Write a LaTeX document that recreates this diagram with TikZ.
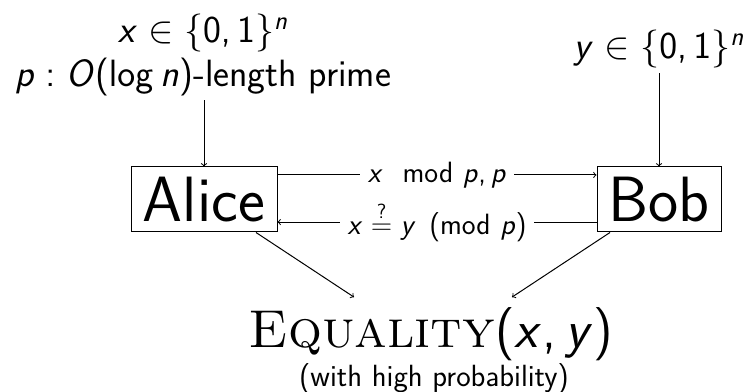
\RequirePackage{fix-cm}
\documentclass[tikz,border=0pt]{standalone}
\usepackage{amsmath}
\renewcommand{\familydefault}{\sfdefault}
\SetSymbolFont{operators}{normal}{OT1}{cmss}{m}{n}
\SetSymbolFont{letters}{normal}{OT1}{cmss}{m}{sl}
\DeclareMathSymbol{,}{\mathpunct}{operators}{"2C}
\usetikzlibrary{positioning}

\tikzset{
  party/.style={draw, line width=0.75pt, inner sep=0pt, minimum height=48.75pt, font=\fontsize{48}{54}\selectfont},
  msg/.style={midway, fill=white, inner xsep=6pt, inner ysep=1pt, font=\fontsize{22}{26}\selectfont},
  given/.style={align=center, font=\fontsize{28.5}{32.5}\selectfont},
  flow/.style={->, line width=0.75pt}
}

\begin{document}
\begin{tikzpicture}[x=0.75pt,y=0.75pt,yscale=-1,xscale=1]
\useasboundingbox (0,0) rectangle (747,392);

% Inputs
\node [given] (xin) at (203,55) {$x \in \{0,1\}^n$\\$p:O(\log n)$-length prime};
\node [given, anchor=base] (yin) at (659,59) {$y \in \{0,1\}^n$};

% Players
\node [party, minimum width=109.5pt] (alice) at (204,199.5) {Alice};
\node [party, minimum width=93pt] (bob) at (659,199.5) {Bob};

% Output
\node [anchor=base, inner ysep=8pt, font=\fontsize{40}{46}\selectfont] (eq) at (431,348) {{\rmfamily\textsc{Equality}}$(x,y)$};
\node [anchor=base, font=\fontsize{23}{27}\selectfont] (prob) at (434,387) {(with high probability)};

% Connectors
\draw [flow] (alice.north |- xin.south) -- (alice.north);
\draw [flow] (bob.north |- yin.south) -- (bob.north);
\draw [flow] ([yshift=-18.4pt]alice.east) -- ([yshift=-18.4pt]bob.west) node [msg] {$x \mod{p}, p$};
\draw [flow] ([yshift=16.9pt]bob.west) -- ([yshift=16.9pt]alice.east) node [msg] {$x \stackrel{?}{=} y \pmod{p}$};
\draw [flow] ([xshift=39pt]alice.south) -- ([xshift=-57.75pt]eq.north);
\draw [flow] ([xshift=-36.75pt]bob.south) -- ([xshift=60.75pt]eq.north);

\end{tikzpicture}
\end{document}
